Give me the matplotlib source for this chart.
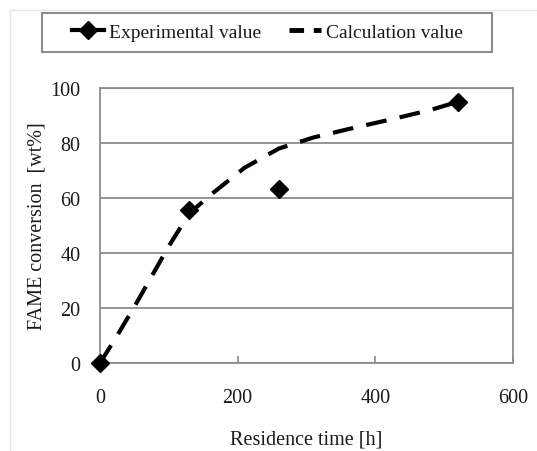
import matplotlib
matplotlib.use("Agg")
from matplotlib import pyplot as plt
from matplotlib.lines import Line2D
from matplotlib.patches import Rectangle

plt.rcParams['font.family'] = ['Liberation Serif', 'DejaVu Serif']

# 实验值
exp_time = [0, 130, 260, 520]
exp_conv = [0, 55.5, 63.3, 95.0]
# 计算值
calc_time = [0, 25, 50, 75, 100, 130, 165, 210, 260, 310, 360, 430, 480, 520]
calc_conv = [0, 10, 20.5, 31.5, 42.5, 54.5, 62, 71, 78, 82, 85, 89, 92, 95]

xticks = [0, 200, 400, 600]
yticks = [0, 20, 40, 60, 80, 100]

fig = plt.figure(figsize=(5.37, 4.52), dpi=100)
ax = fig.add_axes([100 / 537, 1 - 364 / 452, 413 / 537, 275 / 452])

ax.plot(calc_time, calc_conv, color='black', lw=3, dashes=(5, 3.2), zorder=3)
ax.plot(exp_time, exp_conv, ls='none', marker='D', ms=9.5, color='black', zorder=4, clip_on=False)

ax.set_xlim(0, 600)
ax.set_ylim(0, 100)
ax.set_xticks(xticks)
ax.set_yticks(yticks)
ax.yaxis.grid(True, color='#8c8c8c', lw=1.3)
ax.set_axisbelow(True)
for s in ax.spines.values():
    s.set_color('#8c8c8c')
    s.set_linewidth(1.3)
ax.tick_params(axis='x', direction='in', length=5, color='#8c8c8c', width=1.2,
               labelsize=14.5, pad=18, labelcolor='#1a1a1a')
ax.tick_params(axis='y', length=0, labelsize=14.5, pad=14, labelcolor='#1a1a1a')

ax.set_xlabel('Residence time [h]', fontsize=14.5, color='#1a1a1a', labelpad=16)
ax.set_ylabel('FAME conversion  [wt%]', fontsize=14.5, color='#1a1a1a', labelpad=3)

# 图例
h1 = Line2D([], [], color='black', lw=3, marker='D', ms=9.5)
h2 = Line2D([], [], color='black', lw=3.5, dashes=(3, 2))
leg = fig.legend([h1, h2], ['Experimental value', 'Calculation value'], loc='center',
                 bbox_to_anchor=(0.498, 0.926), ncol=2, fontsize=14, frameon=False,
                 handlelength=1.65, handletextpad=0.25, columnspacing=1.4)
for t in leg.get_texts():
    t.set_color('#1a1a1a')
fig.add_artist(Rectangle((42 / 537, 1 - 53 / 452), 450 / 537, 39 / 452, transform=fig.transFigure,
                         fill=False, edgecolor='#8c8c8c', lw=1.5))

# 外框
fig.add_artist(Line2D([10 / 537, 10 / 537], [0, 1 - 11 / 452], color='#e6e6e6', lw=1))
fig.add_artist(Line2D([10 / 537, 1], [1 - 11 / 452, 1 - 11 / 452], color='#e6e6e6', lw=1))

fig.savefig('out.png', dpi=100)
